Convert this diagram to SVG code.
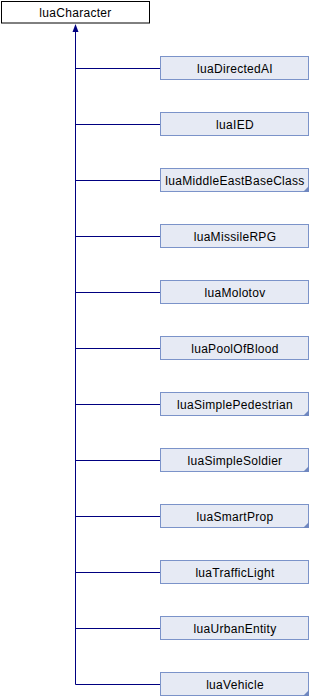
<svg xmlns="http://www.w3.org/2000/svg" width="310" height="696" viewBox="0 0 310 696">
<style>
.base{fill:#ffffff;stroke:#000000;stroke-width:1}
.box{fill:#e6eaf4;stroke:#7b93c9;stroke-width:1}
.fold{fill:#6f87c0}
.t{font-family:"Liberation Sans",Arial,sans-serif;font-size:12px;letter-spacing:0.3px;fill:#000000;text-anchor:middle}
.c{stroke:#000080;stroke-width:1;fill:none}
.ah{fill:#000080}
</style>
<rect width="310" height="696" fill="#ffffff"/>
<g id="connectors">
<path class="c" d="M75.5,30 V684.5"/>
<polygon class="ah" points="75.5,24 72.5,32 78.5,32"/>
<path class="c" d="M75.5,68.5 H160 M75.5,124.5 H160 M75.5,180.5 H160 M75.5,236.5 H160 M75.5,292.5 H160 M75.5,348.5 H160 M75.5,404.5 H160 M75.5,460.5 H160 M75.5,516.5 H160 M75.5,572.5 H160 M75.5,628.5 H160 M75.5,684.5 H160"/>
</g>
<g id="luaCharacter">
<rect class="base" x="1.5" y="1.5" width="148" height="21.5"/>
<text class="t" x="75.5" y="16.5">luaCharacter</text>
</g>
<g id="luaDirectedAI">
<rect class="box" x="160.5" y="56.5" width="148" height="23"/>
<text class="t" x="235" y="72.5">luaDirectedAI</text>
</g>
<g id="luaIED">
<rect class="box" x="160.5" y="112.5" width="148" height="23"/>
<text class="t" x="235" y="128.5">luaIED</text>
</g>
<g id="luaMiddleEastBaseClass">
<rect class="box" x="160.5" y="168.5" width="148" height="23"/>
<polygon class="fold" points="309,186 309,192 303,192"/>
<text class="t" x="235" y="184.5">luaMiddleEastBaseClass</text>
</g>
<g id="luaMissileRPG">
<rect class="box" x="160.5" y="224.5" width="148" height="23"/>
<text class="t" x="235" y="240.5">luaMissileRPG</text>
</g>
<g id="luaMolotov">
<rect class="box" x="160.5" y="280.5" width="148" height="23"/>
<text class="t" x="235" y="296.5">luaMolotov</text>
</g>
<g id="luaPoolOfBlood">
<rect class="box" x="160.5" y="336.5" width="148" height="23"/>
<text class="t" x="235" y="352.5">luaPoolOfBlood</text>
</g>
<g id="luaSimplePedestrian">
<rect class="box" x="160.5" y="392.5" width="148" height="23"/>
<polygon class="fold" points="309,410 309,416 303,416"/>
<text class="t" x="235" y="408.5">luaSimplePedestrian</text>
</g>
<g id="luaSimpleSoldier">
<rect class="box" x="160.5" y="448.5" width="148" height="23"/>
<polygon class="fold" points="309,466 309,472 303,472"/>
<text class="t" x="235" y="464.5">luaSimpleSoldier</text>
</g>
<g id="luaSmartProp">
<rect class="box" x="160.5" y="504.5" width="148" height="23"/>
<polygon class="fold" points="309,522 309,528 303,528"/>
<text class="t" x="235" y="520.5">luaSmartProp</text>
</g>
<g id="luaTrafficLight">
<rect class="box" x="160.5" y="560.5" width="148" height="23"/>
<text class="t" x="235" y="576.5">luaTrafficLight</text>
</g>
<g id="luaUrbanEntity">
<rect class="box" x="160.5" y="616.5" width="148" height="23"/>
<text class="t" x="235" y="632.5">luaUrbanEntity</text>
</g>
<g id="luaVehicle">
<rect class="box" x="160.5" y="672.5" width="148" height="23"/>
<polygon class="fold" points="309,690 309,696 303,696"/>
<text class="t" x="235" y="688.5">luaVehicle</text>
</g>
</svg>
